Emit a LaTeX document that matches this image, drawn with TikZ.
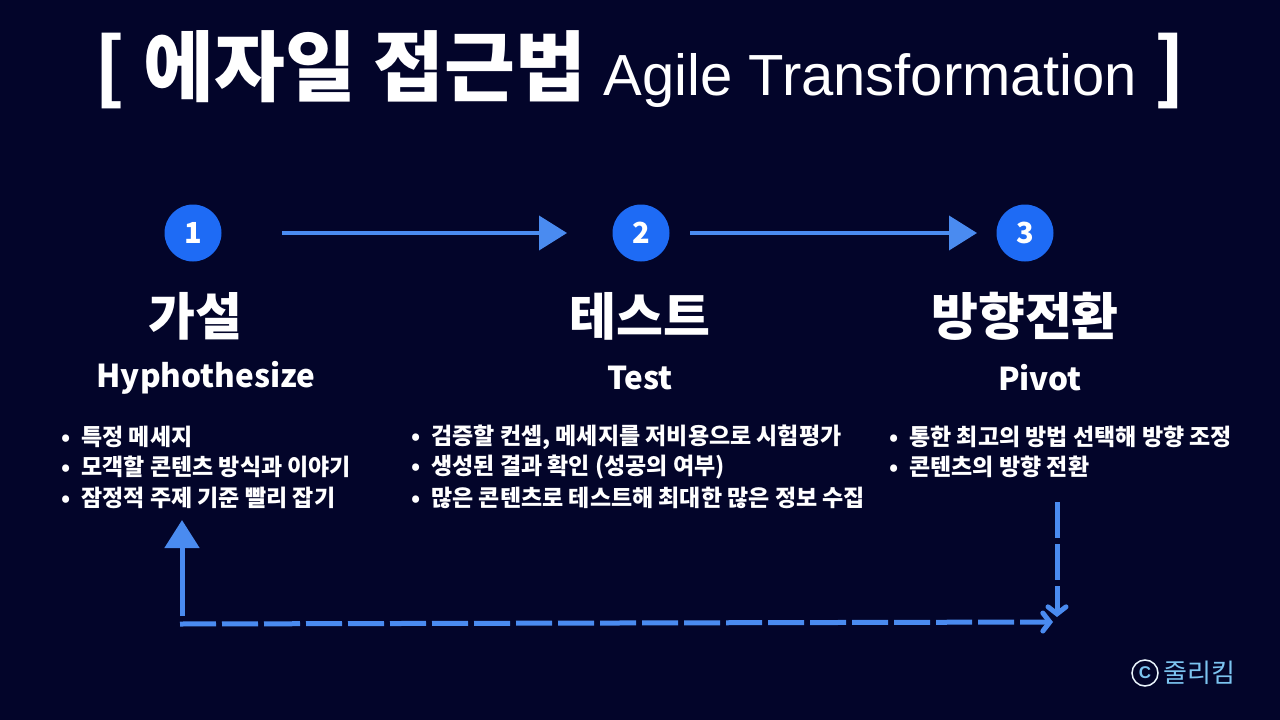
\documentclass[tikz,border=0pt]{standalone}
\usepackage{fontspec}
\setmainfont{Noto Sans CJK KR}
\newfontfamily\lat{Liberation Sans}
\usetikzlibrary{arrows.meta}
\definecolor{bg}{HTML}{03052A}
\definecolor{cblue}{HTML}{1E6BF5}
\definecolor{ablue}{HTML}{4A8BF0}
\definecolor{lblue}{HTML}{7CC4F0}
\tikzset{
 num/.style={circle,fill=cblue,minimum size=57pt,inner sep=0,text=white,font=\fontsize{29}{29}\selectfont\bfseries},
 head/.style={text=white,font=\fontsize{51}{51}\selectfont\bfseries},
 eng/.style={text=white,font=\fontsize{31.5}{31.5}\selectfont\bfseries},
 item/.style={text=white,anchor=west,font=\fontsize{23}{23}\selectfont\bfseries,inner sep=0},
 flow/.style={ablue,line width=4pt,-{Triangle[length=28pt,width=34pt]}},
 dashline/.style={ablue,line width=5pt,dash pattern=on 36pt off 6pt},
}
\begin{document}
\begin{tikzpicture}[x=1pt,y=-1pt]
\fill[bg] (0,0) rectangle (1280,720);
\useasboundingbox (0,0) rectangle (1280,720);
\node[text=white,inner sep=0] (title) at (640,70) {\fontsize{77}{77}\selectfont\bfseries [ 에자일 접근법 {\lat\mdseries\fontsize{58}{58}\selectfont Agile Transformation} ]};
\node[num] (n1) at (193,233) {1};
\node[num] (n2) at (641,233) {2};
\node[num] (n3) at (1025,233) {3};
\coordinate (a1s) at (282,233); \coordinate (a1e) at (567,233);
\coordinate (a2s) at (690,233); \coordinate (a2e) at (977,233);
\draw[flow] (a1s) -- (a1e);
\draw[flow] (a2s) -- (a2e);
\node[head] (h1) at (195,316) {가설};
\node[head] (h2) at (640,316) {테스트};
\node[head] (h3) at (1025,316) {방향전환};
\node[eng] (e1) at (206,378) {Hyphothesize};
\node[eng] (e2) at (640,378) {Test};
\node[eng] (e3) at (1040,378) {Pivot};
\foreach \x/\y/\t in {61/437/특정 메세지,61/467/모객할 콘텐츠 방식과 이야기,61/498/잠정적 주제 기준 빨리 잡기,
 411/437/{검증할 컨셉, 메세지를 저비용으로 시험평가},411/467/생성된 결과 확인 (성공의 여부),411/498/많은 콘텐츠로 테스트해 최대한 많은 정보 수집,
 889/437/통한 최고의 방법 선택해 방향 조정,889/467/콘텐츠의 방향 전환}
 \node[item] at (\x,\y) {•\hspace{11pt}\t};
\coordinate (up0) at (182,616); \coordinate (up1) at (182,520);
\draw[flow,line width=5pt,-{Triangle[length=28pt,width=34pt]}] (up0) -- (up1);
\coordinate (d0) at (180,624); \coordinate (d1) at (1053,622);
\coordinate (v0) at (1057,502); \coordinate (v1) at (1057,617);
\draw[dashline,-{Straight Barb[length=7pt,width=18pt,line cap=round]}] (d0) -- (d1);
\draw[dashline,-{Straight Barb[length=7pt,width=18pt,line cap=round]}] (v0) -- (v1);
\node[circle,draw=white!85!lblue,line width=1.5pt,minimum size=26pt,inner sep=0,text=lblue,font=\lat\bfseries\fontsize{17}{17}\selectfont] (logo) at (1145,673) {C};
\node[text=lblue,anchor=west,inner sep=0,font=\fontsize{26}{26}\selectfont] (jk) at (1163,673) {줄리킴};
\end{tikzpicture}
\end{document}
